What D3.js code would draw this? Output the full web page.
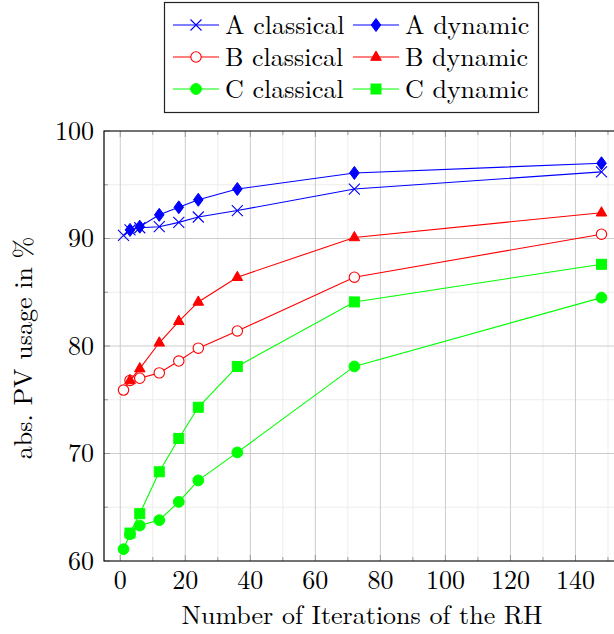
<!DOCTYPE html>
<html lang="en">
<head>
  <meta charset="UTF-8">
  <title>PV usage vs RH iterations</title>
  <style>
    body {
      margin: 0;
      background: #fff;
    }
  </style>
  <script src="https://d3js.org/d3.v7.min.js"></script>
</head>
<body>
  <svg id="chart" width="614" height="634"></svg>

  <script>
    // iterations of the RH (x values)
    const xClassical = [1, 3, 6, 12, 18, 24, 36, 72, 148];
    const xDynamic = [3, 6, 12, 18, 24, 36, 72, 148];

    // abs. PV usage in %
    const aClassical = [90.3, 90.8, 91.0, 91.1, 91.5, 92.0, 92.6, 94.6, 96.2];
    const aDynamic = [90.8, 91.1, 92.2, 92.9, 93.6, 94.6, 96.1, 97.0];
    const bClassical = [75.9, 76.8, 77.0, 77.5, 78.6, 79.8, 81.4, 86.4, 90.4];
    const bDynamic = [76.8, 77.9, 80.3, 82.3, 84.1, 86.4, 90.1, 92.4];
    const cClassical = [61.1, 62.5, 63.3, 63.8, 65.5, 67.5, 70.1, 78.1, 84.5];
    const cDynamic = [62.6, 64.4, 68.3, 71.4, 74.3, 78.1, 84.1, 87.6];

    const xTicks = [0, 20, 40, 60, 80, 100, 120, 140];
    const yTicks = [60, 70, 80, 90, 100];

    const series = [
      { name: "A classical", xs: xClassical, ys: aClassical, color: "#0000ff", mark: "cross" },
      { name: "A dynamic", xs: xDynamic, ys: aDynamic, color: "#0000ff", mark: "diamond" },
      { name: "B classical", xs: xClassical, ys: bClassical, color: "#ff0000", mark: "circle" },
      { name: "B dynamic", xs: xDynamic, ys: bDynamic, color: "#ff0000", mark: "triangle" },
      { name: "C classical", xs: xClassical, ys: cClassical, color: "#00ff00", mark: "dot" },
      { name: "C dynamic", xs: xDynamic, ys: cDynamic, color: "#00ff00", mark: "square" }
    ];

    const svg = d3.select("#chart")
      .attr("font-family", "Latin Modern Roman, Liberation Serif, serif");
    const pLeft = 104, pRight = 621, pTop = 131, pBottom = 561;
    const fontSize = 26;

    const x = d3.scaleLinear().domain([-5, 154]).range([pLeft, pRight]);
    const y = d3.scaleLinear().domain([60, 100]).range([pBottom, pTop]);

    // grid: minor first, then major
    const xMinor = d3.range(10, 160, 20);
    const yMinor = d3.range(65, 100, 10);
    const grid = svg.append("g");
    grid.selectAll(".xm").data(xMinor).enter().append("line")
      .attr("x1", d => x(d)).attr("x2", d => x(d)).attr("y1", pTop).attr("y2", pBottom)
      .attr("stroke", "#ededed").attr("stroke-width", 1);
    grid.selectAll(".ym").data(yMinor).enter().append("line")
      .attr("x1", pLeft).attr("x2", pRight).attr("y1", d => y(d)).attr("y2", d => y(d))
      .attr("stroke", "#ededed").attr("stroke-width", 1);
    grid.selectAll(".xM").data(xTicks).enter().append("line")
      .attr("x1", d => x(d)).attr("x2", d => x(d)).attr("y1", pTop).attr("y2", pBottom)
      .attr("stroke", "#cccccc").attr("stroke-width", 1);
    grid.selectAll(".yM").data(yTicks).enter().append("line")
      .attr("x1", pLeft).attr("x2", pRight).attr("y1", d => y(d)).attr("y2", d => y(d))
      .attr("stroke", "#cccccc").attr("stroke-width", 1);

    // tick marks inside the frame
    const tickColor = "#999";
    const allX = xTicks.concat(xMinor);
    const allY = yTicks.concat(yMinor);
    const ticks = svg.append("g").attr("stroke", tickColor).attr("stroke-width", 1);
    allX.forEach(d => {
      const len = xTicks.includes(d) ? 6 : 4;
      ticks.append("line").attr("x1", x(d)).attr("x2", x(d)).attr("y1", pBottom).attr("y2", pBottom - len);
      ticks.append("line").attr("x1", x(d)).attr("x2", x(d)).attr("y1", pTop).attr("y2", pTop + len);
    });
    allY.forEach(d => {
      const len = yTicks.includes(d) ? 6 : 4;
      ticks.append("line").attr("x1", pLeft).attr("x2", pLeft + len).attr("y1", y(d)).attr("y2", y(d));
    });

    // frame
    svg.append("path")
      .attr("d", `M${pRight},${pTop}H${pLeft}V${pBottom}H${pRight}`)
      .attr("fill", "none").attr("stroke", "#000").attr("stroke-width", 1.2);

    // tick labels
    svg.selectAll(".xl").data(xTicks).enter().append("text")
      .attr("x", d => x(d)).attr("y", 589)
      .attr("text-anchor", "middle").attr("font-size", fontSize)
      .text(d => d);
    svg.selectAll(".yl").data(yTicks).enter().append("text")
      .attr("x", 94).attr("y", d => y(d) + 8.5)
      .attr("text-anchor", "end").attr("font-size", fontSize)
      .text(d => d);

    // axis titles
    svg.append("text")
      .attr("x", 362).attr("y", 624)
      .attr("text-anchor", "middle").attr("font-size", fontSize)
      .text("Number of Iterations of the RH");
    svg.append("text")
      .attr("transform", `translate(32,${(pTop + pBottom) / 2 + 2}) rotate(-90)`)
      .attr("text-anchor", "middle").attr("font-size", fontSize)
      .text("abs. PV usage in %");

    function drawMark(g, mark, color, cx, cy) {
      if (mark === "cross") {
        g.append("path")
          .attr("d", `M${cx - 5.5},${cy - 5.5}L${cx + 5.5},${cy + 5.5}M${cx - 5.5},${cy + 5.5}L${cx + 5.5},${cy - 5.5}`)
          .attr("stroke", color).attr("stroke-width", 1.1).attr("fill", "none");
      } else if (mark === "diamond") {
        g.append("path")
          .attr("d", `M${cx},${cy - 6.5}L${cx + 4.8},${cy}L${cx},${cy + 6.5}L${cx - 4.8},${cy}Z`)
          .attr("fill", color).attr("stroke", color);
      } else if (mark === "circle") {
        g.append("circle").attr("cx", cx).attr("cy", cy).attr("r", 5.2)
          .attr("fill", "#fff").attr("stroke", color).attr("stroke-width", 1.1);
      } else if (mark === "dot") {
        g.append("circle").attr("cx", cx).attr("cy", cy).attr("r", 5.4)
          .attr("fill", color).attr("stroke", color);
      } else if (mark === "triangle") {
        g.append("path")
          .attr("d", `M${cx},${cy - 6}L${cx + 5.3},${cy + 3.3}L${cx - 5.3},${cy + 3.3}Z`)
          .attr("fill", color).attr("stroke", color);
      } else if (mark === "square") {
        g.append("rect").attr("x", cx - 5).attr("y", cy - 5).attr("width", 10).attr("height", 10)
          .attr("fill", color).attr("stroke", color);
      }
    }

    const line = d3.line().x(d => x(d[0])).y(d => y(d[1]));
    series.forEach(s => {
      const pts = s.xs.map((v, i) => [v, s.ys[i]]);
      const g = svg.append("g");
      g.append("path").datum(pts)
        .attr("d", line).attr("fill", "none")
        .attr("stroke", s.color).attr("stroke-width", 1.1);
      pts.forEach(p => drawMark(g, s.mark, s.color, x(p[0]), y(p[1])));
    });

    // legend
    const lg = svg.append("g");
    lg.append("rect").attr("x", 164.5).attr("y", 2.5).attr("width", 374).attr("height", 110)
      .attr("fill", "#fff").attr("stroke", "#222").attr("stroke-width", 1.2);
    series.forEach((s, i) => {
      const col = i % 2, row = Math.floor(i / 2);
      const x0 = col === 0 ? 173 : 353;
      const cy = 25 + row * 32;
      lg.append("line").attr("x1", x0).attr("x2", x0 + 46).attr("y1", cy).attr("y2", cy)
        .attr("stroke", s.color).attr("stroke-width", 1.1);
      drawMark(lg, s.mark, s.color, x0 + 23, cy);
      lg.append("text").attr("x", x0 + 52).attr("y", cy + 9)
        .attr("font-size", fontSize).text(s.name);
    });
  </script>
</body>
</html>
